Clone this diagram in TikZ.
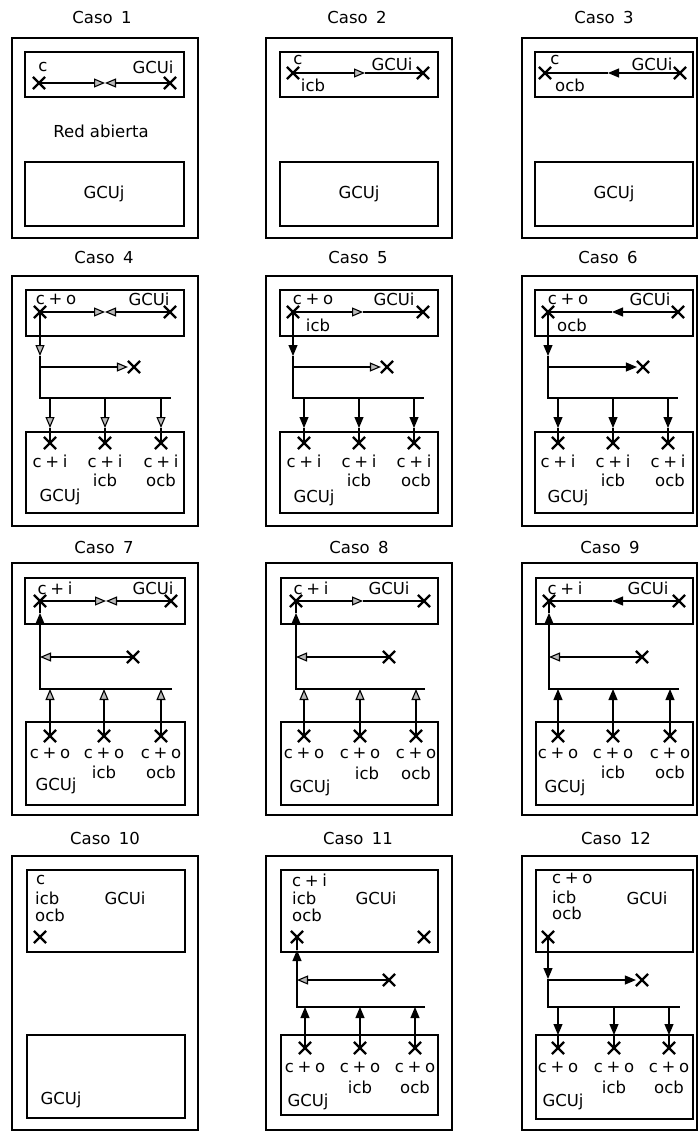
\documentclass[tikz,border=0pt]{standalone}
\usepackage{fontspec}
\setmainfont{DejaVu Sans}
\usetikzlibrary{arrows.meta,shapes.misc,positioning}
\newcommand\lbl{\fontsize{16.5}{18}\selectfont}
\tikzset{
    marco/.style={draw, line width=2.2pt},
    caja/.style={draw, line width=1.3pt},
    xm/.style={
           cross out,
           draw, line width=2.2pt,
           minimum size=10pt,
           inner sep=0pt,
           },
    txt/.style={inner sep=0pt, font=\lbl},
    lin/.style={line width=1.1pt},
    fg/.style={lin, -{Triangle[length=11pt,width=9pt,fill=gray!55]}},
    fn/.style={lin, -{Triangle[length=11pt,width=9pt]}},
}

\begin{document}
\begin{tikzpicture}[x=1pt,y=-1pt]
\useasboundingbox (0,0) rectangle (699,1132);

% Caso 1
\begin{scope}[shift={(12,38)}]
\node[txt](t1) at (90,-21){Caso\enspace 1};
\draw[marco] (0,0) rectangle (186,200);
\draw[caja] (13,14) rectangle (172,59);
\draw[caja] (13,124) rectangle (172,188);
\node[xm](xi1) at (27,45){};
\node[xm](xd1) at (158,45){};
\coordinate (m1) at (93,45);
\node[txt](c1) at (31,29){c};
\node[txt](gi1) at (141,29){GCUi};
\node[txt](ra1) at (89,93){Red abierta};
\node[txt](gj1) at (92,156){GCUj};
\draw[fg] (xi1.center) -- (m1);
\draw[fg] (xd1.center) -- (m1);
\end{scope}

% Caso 2
\begin{scope}[shift={(266,38)}]
\node[txt](t2) at (91,-21){Caso\enspace 2};
\draw[marco] (0,0) rectangle (186,200);
\draw[caja] (14,14) rectangle (172,59);
\draw[caja] (14,124) rectangle (172,188);
\node[xm](xi2) at (27,35){};
\node[xm](xd2) at (157,35){};
\coordinate (m2) at (99,35);
\node[txt](c2) at (32,22){c};
\node[txt](ib2) at (47,47){icb};
\node[txt](gi2) at (126,26){GCUi};
\node[txt](gj2) at (93,156){GCUj};
\draw[fg] (xi2.center) -- (m2);
\draw[lin] (m2) -- (xd2.center);
\end{scope}

% Caso 3
\begin{scope}[shift={(522,38)}]
\node[txt](t3) at (82,-21){Caso\enspace 3};
\draw[marco] (0,0) rectangle (175,200);
\draw[caja] (13,14) rectangle (171,59);
\draw[caja] (13,124) rectangle (171,188);
\node[xm](xi3) at (23,35){};
\node[xm](xd3) at (158,35){};
\coordinate (m3) at (86,35);
\node[txt](c3) at (33,22){c};
\node[txt](ob3) at (48,47){ocb};
\node[txt](gi3) at (130,26){GCUi};
\node[txt](gj3) at (92,156){GCUj};
\draw[fn] (xd3.center) -- (m3);
\draw[lin] (m3) -- (xi3.center);
\end{scope}

% Caso 4
\begin{scope}[shift={(12,276)}]
\node[txt](t4) at (92,-19){Caso\enspace 4};
\draw[marco] (0,0) rectangle (186,250);
\draw[caja] (14,14) rectangle (172,60);
\draw[caja] (14,156) rectangle (172,237);
\node[xm](xi4) at (28,36){};
\node[xm](xd4) at (158,36){};
\coordinate (m4) at (93,36);
\node[txt](co4) at (44,23){c\:+\:o};
\node[txt](gi4) at (137,23){GCUi};
\coordinate (v4) at (28,80);
\coordinate (b4) at (28,91);
\coordinate (e4) at (28,122);
\coordinate (f4) at (159,122);
\node[xm](r4) at (122,91){};
\coordinate (h41) at (38,122);
\coordinate (h42) at (93,122);
\coordinate (h43) at (149,122);
\coordinate (k41) at (38,152);
\coordinate (k42) at (93,152);
\coordinate (k43) at (149,152);
\node[xm](g41) at (38,167){};
\node[xm](g42) at (93,167){};
\node[xm](g43) at (149,167){};
\node[txt](ci41) at (38,185){c\:+\:i};
\node[txt](ci42) at (93,185){c\:+\:i};
\node[txt](ci43) at (149,185){c\:+\:i};
\node[txt](ib4) at (93,204){icb};
\node[txt](ob4) at (149,204){ocb};
\node[txt](gj4) at (48,221){GCUj};
\draw[fg] (xi4.center) -- (m4);
\draw[fg] (xd4.center) -- (m4);
\draw[fg] (xi4.center) -- (v4);
\draw[lin] (v4) -- (e4) -- (f4);
\draw[fg] (b4) -- (r4);
\draw[fg] (h41) -- (k41);
\draw[fg] (h42) -- (k42);
\draw[fg] (h43) -- (k43);
\draw[lin] (k41) -- (g41.center);
\draw[lin] (k42) -- (g42.center);
\draw[lin] (k43) -- (g43.center);
\end{scope}

% Caso 5
\begin{scope}[shift={(266,276)}]
\node[txt](t5) at (92,-19){Caso\enspace 5};
\draw[marco] (0,0) rectangle (186,250);
\draw[caja] (14,14) rectangle (172,60);
\draw[caja] (14,156) rectangle (172,237);
\node[xm](xi5) at (27,36){};
\node[xm](xd5) at (157,36){};
\coordinate (m5) at (97,36);
\node[txt](co5) at (47,23){c\:+\:o};
\node[txt](ib5) at (52,49){icb};
\node[txt](gi5) at (128,23){GCUi};
\coordinate (v5) at (27,80);
\coordinate (b5) at (27,91);
\coordinate (e5) at (27,122);
\coordinate (f5) at (158,122);
\node[xm](r5) at (121,91){};
\coordinate (h51) at (38,122);
\coordinate (h52) at (93,122);
\coordinate (h53) at (148,122);
\coordinate (k51) at (38,152);
\coordinate (k52) at (93,152);
\coordinate (k53) at (148,152);
\node[xm](g51) at (38,167){};
\node[xm](g52) at (93,167){};
\node[xm](g53) at (148,167){};
\node[txt](ci51) at (38,185){c\:+\:i};
\node[txt](ci52) at (93,185){c\:+\:i};
\node[txt](ci53) at (148,185){c\:+\:i};
\node[txt](ib52) at (93,204){icb};
\node[txt](ob5) at (150,204){ocb};
\node[txt](gj5) at (48,222){GCUj};
\draw[fg] (xi5.center) -- (m5);
\draw[lin] (m5) -- (xd5.center);
\draw[fn] (xi5.center) -- (v5);
\draw[lin] (v5) -- (e5) -- (f5);
\draw[fg] (b5) -- (r5);
\draw[fn] (h51) -- (k51);
\draw[fn] (h52) -- (k52);
\draw[fn] (h53) -- (k53);
\draw[lin] (k51) -- (g51.center);
\draw[lin] (k52) -- (g52.center);
\draw[lin] (k53) -- (g53.center);
\end{scope}

% Caso 6
\begin{scope}[shift={(522,276)}]
\node[txt](t6) at (86,-19){Caso\enspace 6};
\draw[marco] (0,0) rectangle (175,250);
\draw[caja] (13,14) rectangle (171,60);
\draw[caja] (13,156) rectangle (171,237);
\node[xm](xi6) at (26,36){};
\node[xm](xd6) at (156,36){};
\coordinate (m6) at (90,36);
\node[txt](co6) at (46,23){c\:+\:o};
\node[txt](ob6) at (50,49){ocb};
\node[txt](gi6) at (128,23){GCUi};
\coordinate (v6) at (26,80);
\coordinate (b6) at (26,91);
\coordinate (e6) at (26,122);
\coordinate (f6) at (156,122);
\node[xm](r6) at (121,91){};
\coordinate (h61) at (36,122);
\coordinate (h62) at (91,122);
\coordinate (h63) at (146,122);
\coordinate (k61) at (36,152);
\coordinate (k62) at (91,152);
\coordinate (k63) at (146,152);
\node[xm](g61) at (36,167){};
\node[xm](g62) at (91,167){};
\node[xm](g63) at (146,167){};
\node[txt](ci61) at (36,185){c\:+\:i};
\node[txt](ci62) at (91,185){c\:+\:i};
\node[txt](ci63) at (146,185){c\:+\:i};
\node[txt](ib6) at (91,204){icb};
\node[txt](ob62) at (148,204){ocb};
\node[txt](gj6) at (46,222){GCUj};
\draw[fn] (xd6.center) -- (m6);
\draw[lin] (m6) -- (xi6.center);
\draw[fn] (xi6.center) -- (v6);
\draw[lin] (v6) -- (e6) -- (f6);
\draw[fn] (b6) -- (r6);
\draw[fn] (h61) -- (k61);
\draw[fn] (h62) -- (k62);
\draw[fn] (h63) -- (k63);
\draw[lin] (k61) -- (g61.center);
\draw[lin] (k62) -- (g62.center);
\draw[lin] (k63) -- (g63.center);
\end{scope}

% Caso 7
\begin{scope}[shift={(12,563)}]
\node[txt](t7) at (92,-16){Caso\enspace 7};
\draw[marco] (0,0) rectangle (186,252);
\draw[caja] (13,15) rectangle (173,61);
\draw[caja] (14,159) rectangle (173,242);
\node[xm](xi7) at (28,38){};
\node[xm](xd7) at (159,38){};
\coordinate (m7) at (94,38);
\node[txt](ci7) at (43,25){c\:+\:i};
\node[txt](gi7) at (141,25){GCUi};
\coordinate (v7) at (28,50);
\coordinate (b7) at (28,94);
\coordinate (e7) at (28,126);
\coordinate (f7) at (160,126);
\node[xm](r7) at (121,94){};
\coordinate (h71) at (38,126);
\coordinate (h72) at (92,126);
\coordinate (h73) at (149,126);
\node[xm](g71) at (38,173){};
\node[xm](g72) at (92,173){};
\node[xm](g73) at (149,173){};
\node[txt](co71) at (38,190){c\:+\:o};
\node[txt](co72) at (92,190){c\:+\:o};
\node[txt](co73) at (149,190){c\:+\:o};
\node[txt](ib7) at (92,209){icb};
\node[txt](ob7) at (149,209){ocb};
\node[txt](gj7) at (44,223){GCUj};
\draw[fg] (xi7.center) -- (m7);
\draw[fg] (xd7.center) -- (m7);
\draw[fn] (f7) -- (e7) -- (v7);
\draw[lin] (v7) -- (xi7.center);
\draw[fg] (r7.center) -- (b7);
\draw[fg] (g71.center) -- (h71);
\draw[fg] (g72.center) -- (h72);
\draw[fg] (g73.center) -- (h73);
\end{scope}

% Caso 8
\begin{scope}[shift={(266,563)}]
\node[txt](t8) at (93,-16){Caso\enspace 8};
\draw[marco] (0,0) rectangle (186,252);
\draw[caja] (15,15) rectangle (172,61);
\draw[caja] (15,159) rectangle (172,242);
\node[xm](xi8) at (30,38){};
\node[xm](xd8) at (158,38){};
\coordinate (m8) at (97,38);
\node[txt](ci8) at (45,25){c\:+\:i};
\node[txt](gi8) at (123,25){GCUi};
\coordinate (v8) at (30,50);
\coordinate (b8) at (30,94);
\coordinate (e8) at (30,126);
\coordinate (f8) at (159,126);
\node[xm](r8) at (123,94){};
\coordinate (h81) at (38,126);
\coordinate (h82) at (94,126);
\coordinate (h83) at (150,126);
\node[xm](g81) at (38,173){};
\node[xm](g82) at (94,173){};
\node[xm](g83) at (150,173){};
\node[txt](co81) at (38,190){c\:+\:o};
\node[txt](co82) at (94,190){c\:+\:o};
\node[txt](co83) at (150,190){c\:+\:o};
\node[txt](ib8) at (101,210){icb};
\node[txt](ob8) at (150,210){ocb};
\node[txt](gj8) at (44,225){GCUj};
\draw[fg] (xi8.center) -- (m8);
\draw[lin] (m8) -- (xd8.center);
\draw[fn] (f8) -- (e8) -- (v8);
\draw[lin] (v8) -- (xi8.center);
\draw[fg] (r8.center) -- (b8);
\draw[fg] (g81.center) -- (h81);
\draw[fg] (g82.center) -- (h82);
\draw[fg] (g83.center) -- (h83);
\end{scope}

% Caso 9
\begin{scope}[shift={(522,563)}]
\node[txt](t9) at (88,-16){Caso\enspace 9};
\draw[marco] (0,0) rectangle (175,252);
\draw[caja] (14,15) rectangle (171,61);
\draw[caja] (14,159) rectangle (171,242);
\node[xm](xi9) at (27,38){};
\node[xm](xd9) at (157,38){};
\coordinate (m9) at (90,38);
\node[txt](ci9) at (43,25){c\:+\:i};
\node[txt](gi9) at (126,25){GCUi};
\coordinate (v9) at (27,50);
\coordinate (b9) at (27,94);
\coordinate (e9) at (27,126);
\coordinate (f9) at (157,126);
\node[xm](r9) at (120,94){};
\coordinate (h91) at (36,126);
\coordinate (h92) at (91,126);
\coordinate (h93) at (148,126);
\node[xm](g91) at (36,173){};
\node[xm](g92) at (91,173){};
\node[xm](g93) at (148,173){};
\node[txt](co91) at (36,190){c\:+\:o};
\node[txt](co92) at (91,190){c\:+\:o};
\node[txt](co93) at (148,190){c\:+\:o};
\node[txt](ib9) at (91,209){icb};
\node[txt](ob9) at (148,209){ocb};
\node[txt](gj9) at (43,225){GCUj};
\draw[fn] (xd9.center) -- (m9);
\draw[lin] (m9) -- (xi9.center);
\draw[fn] (f9) -- (e9) -- (v9);
\draw[lin] (v9) -- (xi9.center);
\draw[fg] (r9.center) -- (b9);
\draw[fn] (g91.center) -- (h91);
\draw[fn] (g92.center) -- (h92);
\draw[fn] (g93.center) -- (h93);
\end{scope}

% Caso 10
\begin{scope}[shift={(12,856)}]
\node[txt](t10) at (93,-18){Caso\enspace 10};
\draw[marco] (0,0) rectangle (186,274);
\draw[caja] (15,14) rectangle (173,96);
\draw[caja] (15,179) rectangle (173,262);
\node[txt,anchor=west](c10) at (24,24){c};
\node[txt,anchor=west](ib10) at (23,42){icb};
\node[txt,anchor=west](ob10) at (23,59){ocb};
\node[xm](xi10) at (28,81){};
\node[txt](gi10) at (113,42){GCUi};
\node[txt](gj10) at (49,244){GCUj};
\end{scope}

% Caso 11
\begin{scope}[shift={(266,856)}]
\node[txt](t11) at (92,-18){Caso\enspace 11};
\draw[marco] (0,0) rectangle (186,274);
\draw[caja] (15,14) rectangle (172,96);
\draw[caja] (15,179) rectangle (172,259);
\node[txt,anchor=west](ci11) at (26,24){c\:+\:i};
\node[txt,anchor=west](ib11) at (26,42){icb};
\node[txt,anchor=west](ob11) at (26,59){ocb};
\node[txt](gi11) at (110,42){GCUi};
\node[xm](xi11) at (31,81){};
\node[xm](xd11) at (158,81){};
\coordinate (v11) at (31,94);
\coordinate (b11) at (31,124);
\coordinate (e11) at (31,151);
\coordinate (f11) at (159,151);
\node[xm](r11) at (123,124){};
\coordinate (h111) at (39,151);
\coordinate (h112) at (94,151);
\coordinate (h113) at (149,151);
\node[xm](g111) at (39,192){};
\node[xm](g112) at (94,192){};
\node[xm](g113) at (149,192){};
\node[txt](co111) at (39,211){c\:+\:o};
\node[txt](co112) at (94,211){c\:+\:o};
\node[txt](co113) at (149,211){c\:+\:o};
\node[txt](ib112) at (94,231){icb};
\node[txt](ob112) at (149,231){ocb};
\node[txt](gj11) at (42,246){GCUj};
\draw[fn] (f11) -- (e11) -- (v11);
\draw[lin] (v11) -- (xi11.center);
\draw[fg] (r11.center) -- (b11);
\draw[fn] (g111.center) -- (h111);
\draw[fn] (g112.center) -- (h112);
\draw[fn] (g113.center) -- (h113);
\end{scope}

% Caso 12
\begin{scope}[shift={(522,856)}]
\node[txt](t12) at (94,-18){Caso\enspace 12};
\draw[marco] (0,0) rectangle (175,274);
\draw[caja] (14,14) rectangle (171,96);
\draw[caja] (14,179) rectangle (171,263);
\node[txt,anchor=west](co12) at (30,22){c\:+\:o};
\node[txt,anchor=west](ib12) at (30,41){icb};
\node[txt,anchor=west](ob12) at (30,57){ocb};
\node[txt](gi12) at (125,42){GCUi};
\node[xm](xi12) at (26,81){};
\coordinate (v12) at (26,123);
\coordinate (b12) at (26,124);
\coordinate (e12) at (26,151);
\coordinate (f12) at (158,151);
\node[xm](r12) at (120,124){};
\coordinate (h121) at (36,151);
\coordinate (h122) at (92,151);
\coordinate (h123) at (147,151);
\coordinate (k121) at (36,179);
\coordinate (k122) at (92,179);
\coordinate (k123) at (147,179);
\node[xm](g121) at (36,192){};
\node[xm](g122) at (92,192){};
\node[xm](g123) at (147,192){};
\node[txt](co121) at (36,211){c\:+\:o};
\node[txt](co122) at (92,211){c\:+\:o};
\node[txt](co123) at (147,211){c\:+\:o};
\node[txt](ib122) at (92,231){icb};
\node[txt](ob122) at (147,231){ocb};
\node[txt](gj12) at (41,246){GCUj};
\draw[fn] (xi12.center) -- (v12);
\draw[lin] (v12) -- (e12) -- (f12);
\draw[fn] (b12) -- (r12);
\draw[fn] (h121) -- (k121);
\draw[fn] (h122) -- (k122);
\draw[fn] (h123) -- (k123);
\draw[lin] (k121) -- (g121.center);
\draw[lin] (k122) -- (g122.center);
\draw[lin] (k123) -- (g123.center);
\end{scope}
\end{tikzpicture}
\end{document}
